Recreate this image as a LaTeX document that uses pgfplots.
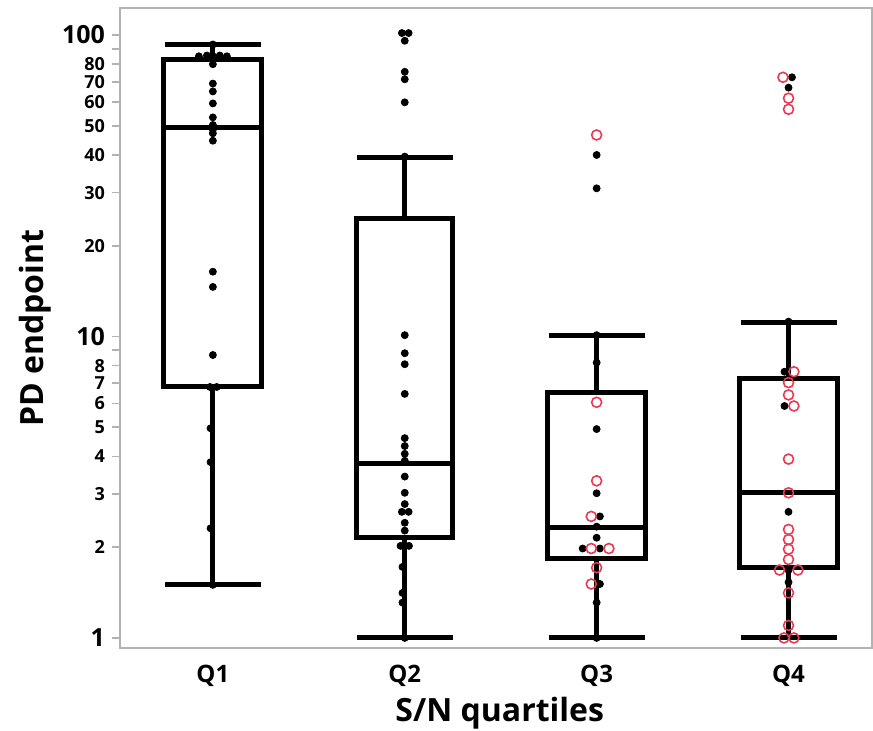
\documentclass[border=0pt]{standalone}
\usepackage{fontspec}
\setmainfont{Open Sans}
\usepackage{pgfplots}
\pgfplotsset{compat=1.18}
\usepgfplotslibrary{statistics}
\usetikzlibrary{calc}
\definecolor{redc}{RGB}{232,58,82}
\definecolor{framec}{RGB}{178,178,178}
\begin{document}
\begin{tikzpicture}
\begin{axis}[
  scale only axis,
  width=376pt, height=320pt,
  ymode=log,
  boxplot/draw direction=y,
  xmin=0.516, xmax=4.435,
  ymin=0.926, ymax=122.9,
  axis line style={framec, line width=1pt},
  xtick={1,2,3,4},
  xticklabels={Q1,Q2,Q3,Q4},
  major x tick style={draw=none},
  xticklabel style={font=\bfseries\fontsize{12}{14}\selectfont, yshift=-1pt},
  ytick={2,3,4,5,6,7,8,9,20,30,40,50,60,70,80,90},
  yticklabels={2,3,4,5,6,7,8,{},20,30,40,50,60,70,80,{}},
  minor y tick num=0,
  yticklabel style={font=\bfseries\fontsize{9}{10}\selectfont},
  extra y ticks={1,10,100},
  extra y tick labels={1,10,100},
  extra y tick style={yticklabel style={font=\bfseries\fontsize{12.5}{14}\selectfont}},
  ytick pos=left,
  tick align=outside,
  major tick length=4pt,
  y tick style={framec, line width=0.8pt},
  xlabel={S/N quartiles},
  ylabel={PD endpoint},
  xlabel style={font=\bfseries\fontsize{16}{18}\selectfont, at={(axis description cs:0.505,-0.1016)}, anchor=center},
  ylabel style={font=\bfseries\fontsize{16}{18}\selectfont, at={(axis description cs:-0.113,0.5)}, anchor=center},
]
% black filled points
\addplot[only marks, mark=*, mark size=1.75pt, black] coordinates {
 (1,93) (0.927,85) (0.969,85.5) (1,85) (1.036,85.5) (1.073,85)
 (1,80) (1,69) (1,65) (1,59.3) (1,53.3) (1,50.3) (1,48.5) (1,47.2) (1,44.6)
 (1,16.4) (1,14.6) (1,8.68) (0.985,6.8) (1.02,6.8) (0.988,4.96) (0.988,3.83) (0.988,2.31) (1,1.5)
 (1.985,101.5) (2.02,101.5) (2,95.7) (2,75.5) (2,71.3) (2,59.8) (2,39.5)
 (2,10.1) (2,8.8) (2,8.09) (2,6.45) (2,4.6) (2,4.33) (2,4.08) (2,3.87) (2,3.43) (2,3.03) (2,2.78)
 (1.985,2.62) (2.02,2.62) (2,2.41) (2,2.27) (1.978,2.02) (2,2.02) (2.022,2.02)
 (1.988,1.72) (1.988,1.41) (1.988,1.31) (2,1.0)
 (3,40) (3,31) (3,10.1) (3,8.19) (3,4.93) (3,3.02) (3.017,2.53) (3,2.34) (3,2.15)
 (2.927,1.98) (3.017,1.98) (3.017,1.51) (3,1.31) (3,1.0)
 (4.018,72.4) (4,66.9) (4,11.2) (3.979,7.64) (3.979,5.88) (4,2.62) (4,1.68) (4,1.53)
};
% red open circles
\addplot[only marks, mark=o, mark size=2.5pt, redc, mark options={line width=0.8pt}] coordinates {
 (3,46.6) (3,6.05) (3,3.32) (2.972,2.53) (2.972,1.98) (3.064,1.98) (3,1.71) (2.972,1.51)
 (3.971,72.4) (4,61.7) (4,56.7) (4.028,7.64) (4,7.03) (4,6.40) (4.028,5.88) (4,3.92) (4,3.03)
 (4,2.29) (4,2.12) (4,1.97) (4,1.82) (3.953,1.68) (4.049,1.68) (4,1.41) (4,1.10) (3.976,1.0) (4.028,1.0)
};
% box plots
\addplot[draw=black, line width=2.5pt, mark=none, boxplot prepared={draw position=1,
  lower whisker=1.5, lower quartile=6.85, median=49.2, upper quartile=83.2, upper whisker=92.7,
  box extend=0.51, whisker extend=0.5}] coordinates {};
\addplot[draw=black, line width=2.5pt, mark=none, boxplot prepared={draw position=2,
  lower whisker=1.0, lower quartile=2.15, median=3.80, upper quartile=24.7, upper whisker=39.1,
  box extend=0.5, whisker extend=0.5}] coordinates {};
\addplot[draw=black, line width=2.5pt, mark=none, boxplot prepared={draw position=3,
  lower whisker=1.0, lower quartile=1.84, median=2.32, upper quartile=6.54, upper whisker=10.1,
  box extend=0.51, whisker extend=0.5}] coordinates {};
\addplot[draw=black, line width=2.5pt, mark=none, boxplot prepared={draw position=4,
  lower whisker=1.0, lower quartile=1.71, median=3.03, upper quartile=7.28, upper whisker=11.1,
  box extend=0.51, whisker extend=0.5}] coordinates {};
\end{axis}
\pgfresetboundingbox
\path ($(current axis.south west)+(-60pt,-41pt)$) rectangle ($(current axis.north east)+(0.5pt,4pt)$);
\end{tikzpicture}
\end{document}
